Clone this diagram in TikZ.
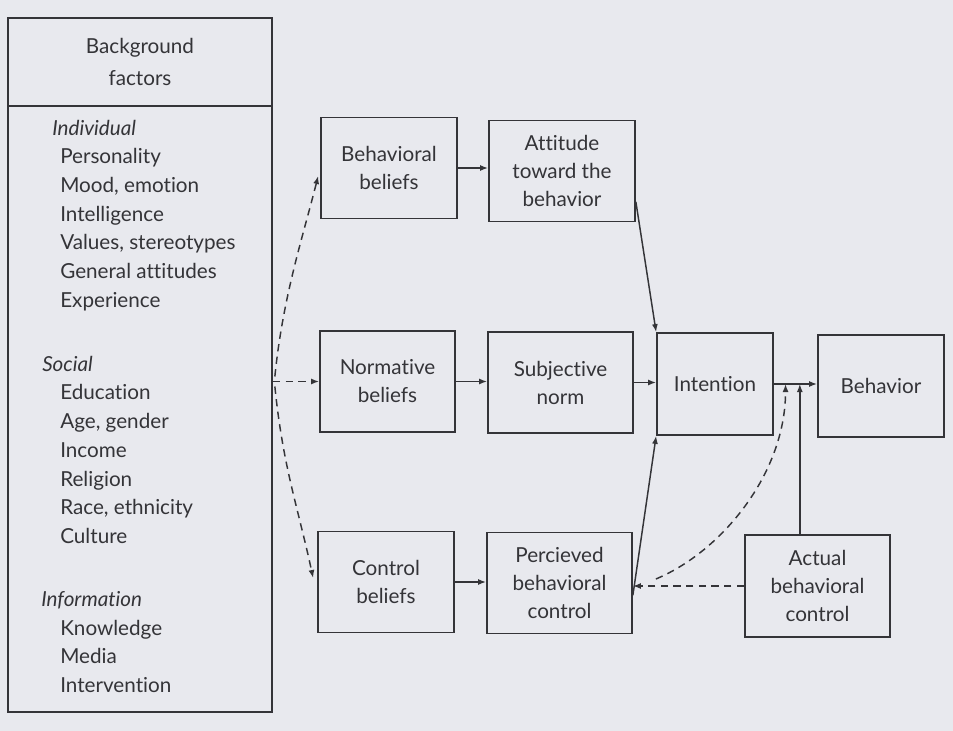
\documentclass[tikz,border=0pt]{standalone}
\usepackage{fontspec}
\setmainfont{Lato}[Ligatures=NoCommon]
\usetikzlibrary{arrows.meta,calc}
\definecolor{bgc}{RGB}{232,233,238}
\definecolor{ink}{RGB}{52,52,56}
\begin{document}
\begin{tikzpicture}[x=0.75pt,y=-0.75pt,
  box/.style={draw=ink, line width=1.3pt, text=ink, align=center, inner sep=0pt,
    font=\fontsize{15.5}{21}\selectfont, minimum height=75.75pt},
  listtxt/.style={text=ink, inner sep=0pt, font=\fontsize{15.5}{21}\selectfont},
  listhead/.style={listtxt, font=\fontsize{15.5}{21}\selectfont\itshape},
  arr/.style={-{Latex[length=6pt,width=4.5pt]}, draw=ink, line width=1.1pt},
  dsh/.style={arr, dash pattern=on 5.5pt off 4pt}]
\fill[bgc] (0,0) rectangle (953,731);
\useasboundingbox (0,0) rectangle (953,731);

% background factors
\node[draw=ink, line width=1.3pt, minimum width=198pt, minimum height=520.5pt, inner sep=0pt] (bg) at (140,365) {};
\coordinate (dv) at (0,106);
\draw[draw=ink, line width=1.3pt] (bg.west |- dv) -- (bg.east |- dv);
\node[listtxt, align=center, font=\fontsize{15.5}{24}\selectfont] (bgt) at (140,62) {Background\\factors};

\node[listhead, anchor=mid west] (hind) at (52,132) {Individual};
\node[listhead, anchor=mid west] (hsoc) at (42,368) {Social};
\node[listhead, anchor=mid west] (hinf) at (41,603) {Information};
\foreach \t/\y [count=\i] in {Personality/160, {Mood, emotion}/189, Intelligence/218, {Values, stereotypes}/246, General attitudes/275, Experience/304,
  Education/396, {Age, gender}/425, Income/454, Religion/483, {Race, ethnicity}/511, Culture/540,
  Knowledge/632, Media/660, Intervention/689}
  \node[listtxt, anchor=mid west] (it\i) at (60,\y) {\t};

% boxes
\node[box, minimum width=102pt] (bb) at (389,168) {Behavioral\\beliefs};
\node[box, minimum width=109.5pt] (att) at (562,171) {Attitude\\toward the\\behavior};
\node[box, minimum width=101.25pt] (nb) at (387.5,381.5) {Normative\\beliefs};
\node[box, minimum width=108.75pt] (sn) at (560.5,382.5) {Subjective\\norm};
\node[box, minimum width=102pt] (cb) at (386,582) {Control\\beliefs};
\node[box, minimum width=108.75pt] (pbc) at (559.5,583) {Percieved\\behavioral\\control};
\node[box, minimum width=87pt, minimum height=76.5pt] (int) at (715,384) {Intention};
\node[box, minimum width=94.5pt, minimum height=76.5pt] (beh) at (881,386) {Behavior};
\node[box, minimum width=108.75pt, minimum height=76.5pt] (abc) at (817.5,586) {Actual\\behavioral\\control};

% solid arrows
\draw[arr] (bb.east) -- (bb.east -| att.west);
\draw[arr] (nb.east) -- (nb.east -| sn.west);
\draw[arr] (sn.east) -- (sn.east -| int.west);
\draw[arr] (cb.east) -- (cb.east -| pbc.west);
\draw[arr] ($(att.south east)!0.2!(att.north east)$) -- (int.north west);
\draw[arr] ($(pbc.south east)!0.38!(pbc.north east)$) -- (int.south west);
\draw[arr] (int.east) -- (int.east -| beh.west);
\coordinate (j1) at ($(int.east)!0.27!(int.east -| beh.west)$);
\coordinate (j2) at ($(int.east)!0.6!(int.east -| beh.west)$);
\draw[arr] (j2 |- abc.north) -- (j2);

% dashed arrows
\draw[dsh] (abc.west) -- (abc.west -| pbc.east);
\coordinate (c0) at ($(abc.west -| pbc.east)+(23,-7)$);
\draw[dsh] (c0) .. controls +(65,-27) and +(0,90) .. (j1);
\coordinate (o) at (bg.east |- nb.west);
\draw[dsh] ($(o)+(2,-5)$) .. controls +(8,-80) and +(-15,60) .. ($(bb.west)+(-2,8)$);
\draw[dsh] (o) -- (nb.west);
\draw[dsh] ($(o)+(2,5)$) .. controls +(8,80) and +(-15,-70) .. ($(cb.west)+(-4,-4)$);
\end{tikzpicture}
\end{document}
